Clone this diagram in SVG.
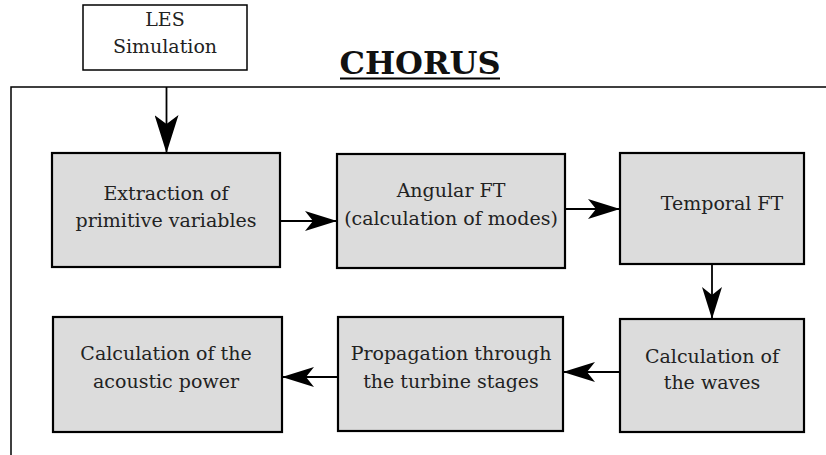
<svg xmlns="http://www.w3.org/2000/svg" width="826" height="455" viewBox="0 0 826 455">
<style>
.box{fill:#dcdcdc;stroke:#000;stroke-width:2.2}
.t{font-size:19px;fill:#222;text-anchor:middle}
.c{stroke:#000;stroke-width:1.8;fill:none}
</style>
<defs>
<marker id="ah" viewBox="0 0 32 20" refX="32" refY="10" markerWidth="32" markerHeight="20" markerUnits="userSpaceOnUse" orient="auto">
<path d="M0,0 L32,10 L0,20 L8,10 Z" fill="#000"/>
</marker>
<marker id="ahL" viewBox="0 0 38 24" refX="38" refY="12" markerWidth="38" markerHeight="24" markerUnits="userSpaceOnUse" orient="auto">
<path d="M0,0 L38,12 L0,24 L9,12 Z" fill="#000"/>
</marker>
</defs>
<rect width="826" height="455" fill="#fff"/>
<g id="frame">
<path d="M11,455 V87 H826" fill="none" stroke="#000" stroke-width="1.5"/>
<text x="420" y="74" font-family="DejaVu Serif,serif" font-size="32" font-weight="bold" text-anchor="middle" fill="#111">CHORUS</text>
<line x1="340" y1="78.5" x2="500" y2="78.5" stroke="#000" stroke-width="2"/>
</g>
<g id="les">
<rect x="83" y="5" width="164" height="65" fill="#fff" stroke="#000" stroke-width="1.5"/>
<text class="t" font-family="DejaVu Serif,serif" x="165" y="26" font-size="18">LES</text>
<text class="t" font-family="DejaVu Serif,serif" x="165" y="53" font-size="18">Simulation</text>
</g>
<g id="extraction">
<rect class="box" x="52" y="153" width="228" height="114"/>
<text class="t" font-family="DejaVu Serif,serif" x="166" y="200">Extraction of</text>
<text class="t" font-family="DejaVu Serif,serif" x="166" y="227">primitive variables</text>
</g>
<g id="angular">
<rect class="box" x="337" y="154" width="228" height="114"/>
<text class="t" font-family="DejaVu Serif,serif" x="451" y="197">Angular FT</text>
<text class="t" font-family="DejaVu Serif,serif" x="451" y="225">(calculation of modes)</text>
</g>
<g id="temporal">
<rect class="box" x="620" y="153" width="184" height="111"/>
<text class="t" font-family="DejaVu Serif,serif" x="722" y="210">Temporal FT</text>
</g>
<g id="waves">
<rect class="box" x="620" y="319" width="184" height="113"/>
<text class="t" font-family="DejaVu Serif,serif" x="712" y="363">Calculation of</text>
<text class="t" font-family="DejaVu Serif,serif" x="712" y="389">the waves</text>
</g>
<g id="propagation">
<rect class="box" x="338" y="317" width="225" height="114"/>
<text class="t" font-family="DejaVu Serif,serif" x="451" y="360">Propagation through</text>
<text class="t" font-family="DejaVu Serif,serif" x="451" y="388">the turbine stages</text>
</g>
<g id="power">
<rect class="box" x="53" y="317" width="229" height="115"/>
<text class="t" font-family="DejaVu Serif,serif" x="166" y="360">Calculation of the</text>
<text class="t" font-family="DejaVu Serif,serif" x="166" y="388">acoustic power</text>
</g>
<g id="connectors">
<line class="c" x1="166.5" y1="87" x2="166.5" y2="153" marker-end="url(#ahL)"/>
<line class="c" x1="281" y1="221" x2="337" y2="221" marker-end="url(#ah)"/>
<line class="c" x1="566" y1="209" x2="620" y2="209" marker-end="url(#ah)"/>
<line class="c" x1="712" y1="265" x2="712" y2="319" marker-end="url(#ah)"/>
<line class="c" x1="620" y1="372" x2="563" y2="372" marker-end="url(#ah)"/>
<line class="c" x1="338" y1="377" x2="282" y2="377" marker-end="url(#ah)"/>
</g>
</svg>
